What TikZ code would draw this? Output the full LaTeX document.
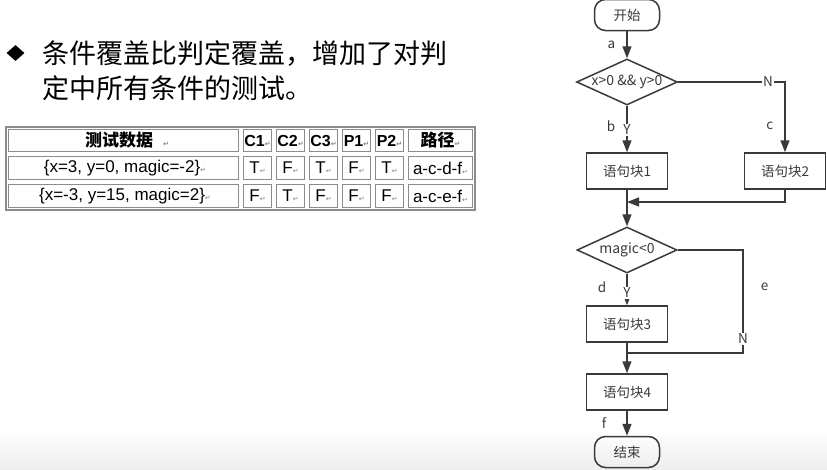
\documentclass[tikz,border=0pt]{standalone}
\usepackage{fontspec}
\setmainfont{Liberation Sans}
\newfontfamily\cjk{Noto Sans CJK SC}
\newfontfamily\djv{DejaVu Sans}
\usetikzlibrary{shapes.geometric,arrows.meta,positioning}

\definecolor{linegray}{HTML}{3A3A3A}
\definecolor{cellgray}{HTML}{8C8C8C}
\newcommand{\pmark}{{\djv\fontsize{7}{7}\selectfont\textcolor{gray}{↵}}}

\tikzset{
  flowline/.style={draw=linegray, line width=1.5pt},
  flowarrow/.style={flowline, -{Triangle[length=12pt,width=9pt]}},
  blockbox/.style={rectangle, draw=linegray, line width=1.5pt, minimum width=81pt, minimum height=36pt, inner sep=0pt, text=linegray, font=\cjk\fontsize{13.5}{15}\selectfont},
  termbox/.style={blockbox, rounded corners=11pt, minimum width=65pt, minimum height=31pt},
  decision/.style={diamond, draw=linegray, line width=1.5pt, minimum width=100pt, minimum height=46pt, inner sep=0pt, aspect=2.2, text=linegray, font=\cjk\fontsize{14}{16}\selectfont},
  edgelabel/.style={text=linegray, font=\cjk\fontsize{13.5}{15}\selectfont, inner sep=1pt},
  onlinelabel/.style={edgelabel, fill=white},
  cell/.style={font=\fontsize{17}{19}\selectfont, inner sep=0pt},
  headcell/.style={font=\bfseries\fontsize{16}{18}\selectfont, inner sep=0pt},
  cjkhead/.style={font=\cjk\bfseries\fontsize{17}{19}\selectfont, inner sep=0pt},
}

\begin{document}
\begin{tikzpicture}[x=1pt,y=-1pt]
    \useasboundingbox (0,0) rectangle (827,469);
    \shade[top color=white, bottom color=black!7] (0,430) rectangle (827,469);

    % bullet text
    \node[diamond, fill=black, minimum width=18pt, minimum height=16pt, inner sep=0pt] (bullet) at (15.5,53) {};
    \node[anchor=base west, inner sep=0pt, font=\cjk\fontsize{27}{34}\selectfont] (line1) at (42,63) {条件覆盖比判定覆盖，增加了对判};
    \node[anchor=base west, inner sep=0pt, font=\cjk\fontsize{27}{34}\selectfont] (line2) at (42,98) {定中所有条件的测试。};

    % table frame
    \draw[cellgray, line width=2pt] (6,127) rectangle (475,210);
    \foreach \xa/\xb in {6/241, 241/274, 274/307, 307/340, 340/373, 373/406, 406/475}
      \foreach \ya/\yb in {127/154, 154/182, 182/210}
        \draw[cellgray, line width=1.2pt] (\xa+2.5,\ya+2.5) rectangle (\xb-2.5,\yb-2.5);

    % table header
    \node[cjkhead] (head0) at (127,140.5) {测试数据\hspace{10pt}\pmark};
    \node[headcell] (head1) at (257.5,140.5) {C1\pmark};
    \node[headcell] (head2) at (290.5,140.5) {C2\pmark};
    \node[headcell] (head3) at (323.5,140.5) {C3\pmark};
    \node[headcell] (head4) at (356.5,140.5) {P1\pmark};
    \node[headcell] (head5) at (389.5,140.5) {P2\pmark};
    \node[cjkhead] (head6) at (440.5,140.5) {路径\pmark};

    % table rows
    \node[cell] (rowa0) at (125,168) {\{x=3, y=0, magic=-2\}\pmark};
    \node[cell] (rowa1) at (257.5,168) {T\pmark};
    \node[cell] (rowa2) at (290.5,168) {F\pmark};
    \node[cell] (rowa3) at (323.5,168) {T\pmark};
    \node[cell] (rowa4) at (356.5,168) {F\pmark};
    \node[cell] (rowa5) at (389.5,168) {T\pmark};
    \node[cell] (rowa6) at (440.5,168) {a-c-d-f\pmark};

    \node[cell] (rowb0) at (125,196) {\{x=-3, y=15, magic=2\}\pmark};
    \node[cell] (rowb1) at (257.5,196) {F\pmark};
    \node[cell] (rowb2) at (290.5,196) {T\pmark};
    \node[cell] (rowb3) at (323.5,196) {F\pmark};
    \node[cell] (rowb4) at (356.5,196) {F\pmark};
    \node[cell] (rowb5) at (389.5,196) {F\pmark};
    \node[cell] (rowb6) at (440.5,196) {a-c-e-f\pmark};

    % flow chart
    \node[termbox] (start) at (627,15) {开始};
    \node[decision] (cond1) at (627,82) {x>0 \&\& y>0};
    \node[blockbox] (blk1) at (627,171) {语句块1};
    \node[blockbox] (blk2) at (785,171) {语句块2};
    \node[decision] (cond2) at (627,250) {magic<0};
    \node[blockbox] (blk3) at (627,324) {语句块3};
    \node[blockbox] (blk4) at (627,392) {语句块4};
    \node[termbox] (stop) at (627,452) {结束};

    \coordinate (join1) at (627,202);
    \coordinate (bendE) at (743,353);
    \coordinate (join2) at (627,353);

    \draw[flowarrow] (start) -- node[edgelabel, left=10pt] {a} (cond1);
    \draw[flowarrow] (cond1) -- node[edgelabel, pos=0.44, left=10pt] {b} node[onlinelabel, pos=0.52] {Y} (blk1);
    \draw[flowarrow] (cond1.east) -| node[onlinelabel, pos=0.42] {N} node[edgelabel, pos=0.81, left=10pt] {c} (blk2.north);
    \draw[flowarrow] (blk2.south) |- (join1);
    \draw[flowarrow] (blk1) -- (cond2);
    \draw[flowarrow] (cond2) -- node[edgelabel, pos=0.42, left=19pt] {d} node[onlinelabel, pos=0.6] {Y} (blk3);
    \draw[flowline] (cond2.east) -| node[edgelabel, pos=0.68, right=16pt] {e} node[onlinelabel, pos=0.93] {N} (bendE) -- (join2);
    \draw[flowarrow] (blk3) -- (blk4);
    \draw[flowarrow] (blk4) -- node[edgelabel, left=19pt] {f} (stop);

\end{tikzpicture}
\end{document}
